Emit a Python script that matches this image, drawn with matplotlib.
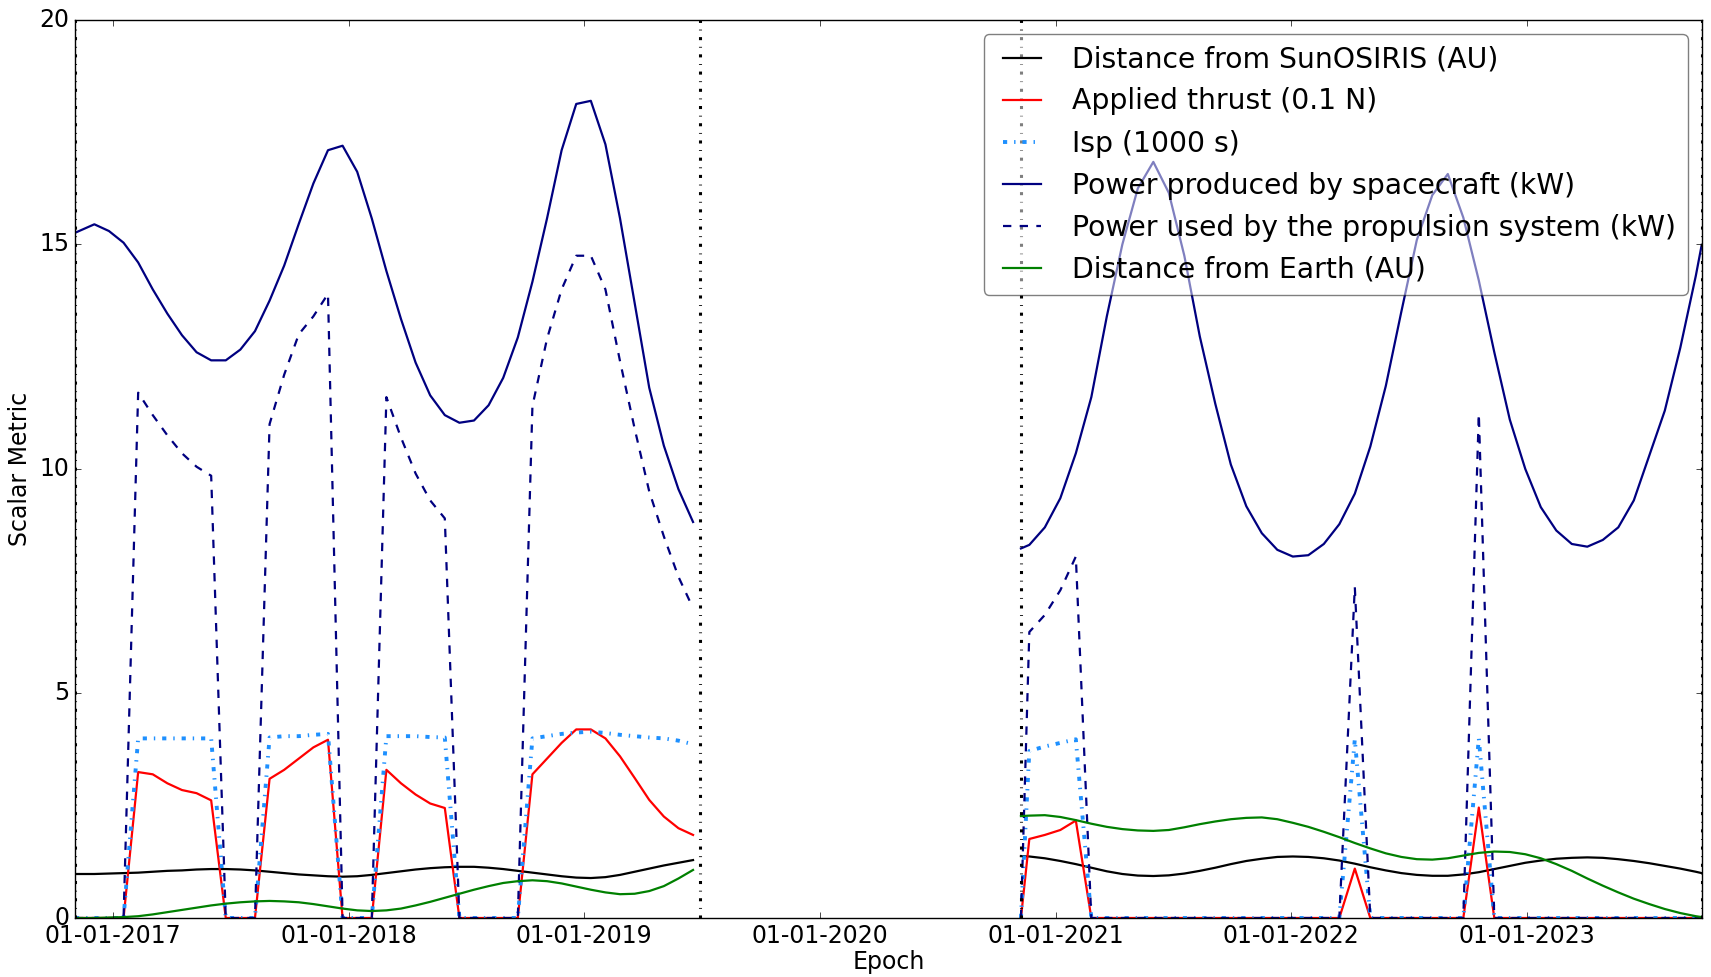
import matplotlib
matplotlib.use("Agg")
import matplotlib.pyplot as plt
import matplotlib.dates as mdates
import numpy as np
from datetime import datetime, timedelta

# ---------------- data ----------------
# Segment 1 sampling (first point at segment start, then regular samples)
seg1_start = datetime(2016, 11, 3)
seg1_first = datetime(2016, 12, 3)
seg1_step_days = 22.63
seg1_end = datetime(2019, 6, 30)

# Segment 2 sampling
seg2_start = datetime(2020, 11, 8)
seg2_first = datetime(2020, 11, 21)
seg2_step_days = 24.02
seg2_end = datetime(2023, 9, 29)

sun_dist_1 = [0.98, 0.98, 0.99, 1.0, 1.01, 1.03, 1.05, 1.06, 1.08, 1.09,
              1.09, 1.08, 1.06, 1.03, 1.0, 0.97, 0.95, 0.93, 0.92, 0.93,
              0.96, 1.0, 1.04, 1.08, 1.11, 1.13, 1.14, 1.14, 1.12, 1.09,
              1.05, 1.01, 0.97, 0.93, 0.9, 0.89, 0.91, 0.96, 1.03, 1.1,
              1.17, 1.23, 1.29]
thrust_1 = [0, 0, 0, 0, 3.25, 3.2, 3.0, 2.85, 2.78, 2.62,
            0, 0, 0, 3.1, 3.3, 3.55, 3.8, 3.97, 0, 0,
            0, 3.3, 3.0, 2.75, 2.55, 2.45, 0, 0, 0, 0,
            0, 3.2, 3.55, 3.9, 4.2, 4.2, 4.0, 3.6, 3.12, 2.63,
            2.26, 2.0, 1.85]
isp_1 = [0, 0, 0, 0, 4.0, 4.0, 4.0, 4.0, 4.0, 4.0,
         0, 0, 0, 4.02, 4.05, 4.05, 4.08, 4.1, 0, 0,
         0, 4.05, 4.05, 4.05, 4.03, 4.02, 0, 0, 0, 0,
         0, 4.0, 4.05, 4.1, 4.13, 4.15, 4.12, 4.08, 4.05, 4.02,
         4.0, 3.95, 3.87]
power_prod_1 = [15.26, 15.45, 15.3, 15.04, 14.6, 14.0, 13.46, 12.98, 12.6, 12.42,
                12.42, 12.66, 13.07, 13.75, 14.53, 15.46, 16.36, 17.1, 17.2, 16.62,
                15.58, 14.41, 13.34, 12.37, 11.64, 11.2, 11.03, 11.08, 11.42, 12.03,
                12.93, 14.17, 15.58, 17.1, 18.13, 18.2, 17.23, 15.58, 13.7, 11.81,
                10.52, 9.55, 8.82]
power_used_1 = [0, 0, 0, 0, 11.7, 11.2, 10.75, 10.35, 10.05, 9.85,
                0, 0, 0, 11.0, 12.1, 13.0, 13.4, 13.9, 0, 0,
                0, 11.6, 10.7, 9.9, 9.3, 8.9, 0, 0, 0, 0,
                0, 11.4, 12.9, 14.0, 14.75, 14.75, 14.0, 12.4, 10.9, 9.5,
                8.5, 7.6, 6.9]
earth_dist_1 = [0.0, 0.0, 0.01, 0.02, 0.04, 0.08, 0.13, 0.18, 0.23, 0.28,
                0.32, 0.35, 0.37, 0.38, 0.37, 0.35, 0.31, 0.26, 0.21, 0.17,
                0.155, 0.17, 0.21, 0.28, 0.36, 0.45, 0.54, 0.63, 0.71, 0.78,
                0.82, 0.84, 0.82, 0.77, 0.7, 0.63, 0.57, 0.53, 0.54, 0.6,
                0.71, 0.88, 1.07]

sun_dist_2 = [1.38, 1.37, 1.33, 1.27, 1.2, 1.12, 1.04, 0.98, 0.945, 0.935,
              0.95, 0.99, 1.05, 1.12, 1.2, 1.27, 1.32, 1.36, 1.37, 1.36,
              1.33, 1.28, 1.21, 1.13, 1.06, 1.0, 0.96, 0.94, 0.94, 0.97,
              1.02, 1.09, 1.16, 1.23, 1.28, 1.32, 1.34, 1.35, 1.34, 1.31,
              1.27, 1.22, 1.16, 1.1, 1.03, 1.0]
thrust_2 = [0, 1.76, 1.85, 1.96, 2.17, 0, 0, 0, 0, 0,
            0, 0, 0, 0, 0, 0, 0, 0, 0, 0,
            0, 0, 1.1, 0, 0, 0, 0, 0, 0, 0,
            2.46, 0, 0, 0, 0, 0, 0, 0, 0, 0,
            0, 0, 0, 0, 0, 0]
isp_2 = [0, 3.72, 3.82, 3.9, 3.98, 0, 0, 0, 0, 0,
         0, 0, 0, 0, 0, 0, 0, 0, 0, 0,
         0, 0, 3.98, 0, 0, 0, 0, 0, 0, 0,
         4.0, 0, 0, 0, 0, 0, 0, 0, 0, 0,
         0, 0, 0, 0, 0, 0]
power_prod_2 = [8.23, 8.31, 8.7, 9.35, 10.35, 11.6, 13.4, 15.0, 16.25, 16.84,
                16.15, 14.75, 12.95, 11.45, 10.1, 9.17, 8.57, 8.2, 8.05, 8.08,
                8.33, 8.77, 9.45, 10.5, 11.85, 13.5, 15.1, 16.1, 16.57, 15.6,
                14.2, 12.6, 11.1, 10.0, 9.15, 8.63, 8.33, 8.27, 8.42, 8.7,
                9.3, 10.3, 11.3, 12.7, 14.3, 14.99]
power_used_2 = [0, 6.37, 6.75, 7.3, 8.05, 0, 0, 0, 0, 0,
                0, 0, 0, 0, 0, 0, 0, 0, 0, 0,
                0, 0, 7.37, 0, 0, 0, 0, 0, 0, 0,
                11.23, 0, 0, 0, 0, 0, 0, 0, 0, 0,
                0, 0, 0, 0, 0, 0]
earth_dist_2 = [2.27, 2.28, 2.29, 2.25, 2.18, 2.1, 2.03, 1.98, 1.95, 1.94,
                1.96, 2.02, 2.09, 2.15, 2.2, 2.23, 2.24, 2.2, 2.12, 2.03,
                1.92, 1.8, 1.67, 1.55, 1.44, 1.36, 1.31, 1.3, 1.33, 1.39,
                1.45, 1.48, 1.47, 1.42, 1.33, 1.2, 1.05, 0.88, 0.72, 0.57,
                0.43, 0.31, 0.2, 0.11, 0.04, 0.02]

labels = ["Distance from SunOSIRIS (AU)", "Applied thrust (0.1 N)", "Isp (1000 s)",
          "Power produced by spacecraft (kW)", "Power used by the propulsion system (kW)",
          "Distance from Earth (AU)"]
y_ticks = [0, 5, 10, 15, 20]
phase_bounds = [seg1_start, seg1_end, seg2_start, seg2_end]

# ---------------- dates ----------------
def seg_dates(start, first, step, n, end=None):
    d = [start] + [first + timedelta(days=step * k) for k in range(n)]
    if end is not None:
        d.append(end)
    return mdates.date2num(d)

x1 = seg_dates(seg1_start, seg1_first, seg1_step_days, len(power_prod_1) - 1)
x2 = seg_dates(seg2_start, seg2_first, seg2_step_days, len(power_prod_2) - 2, seg2_end)
x_all = np.concatenate([x1, [np.nan], x2])

def join(a, b):
    return np.concatenate([np.asarray(a, float), [np.nan], np.asarray(b, float)])

# ---------------- plot ----------------
plt.style.use("classic")
plt.rcParams["font.family"] = ["DejaVu Sans"]
plt.rcParams["lines.scale_dashes"] = False
plt.rcParams["figure.facecolor"] = "white"
plt.rcParams["savefig.facecolor"] = "white"

fig = plt.figure(figsize=(17.11, 9.77), dpi=100)
ax = fig.add_axes([0.04383, 0.06039, 0.99456 - 0.04383, 0.97953 - 0.06039])

lw = 1.6
ax.plot(x_all, join(sun_dist_1, sun_dist_2), color="black", lw=lw, label=labels[0])
ax.plot(x_all, join(thrust_1, thrust_2), color="red", lw=lw, label=labels[1])
ax.plot(x_all, join(isp_1, isp_2), color="#1E90FF", lw=2.8, dashes=(3, 5, 1, 5), label=labels[2])
ax.plot(x_all, join(power_prod_1, power_prod_2), color="#000080", lw=lw, label=labels[3])
ax.plot(x_all, join(power_used_1, power_used_2), color="#000080", lw=lw, dashes=(6, 6), label=labels[4])
ax.plot(x_all, join(earth_dist_1, earth_dist_2), color="green", lw=lw, label=labels[5])

for d in phase_bounds:
    ax.axvline(mdates.date2num(d), color="black", lw=2.2, dashes=(2.2, 4.8, 0.6, 4.8))

ax.set_xlim(mdates.date2num(seg1_start), mdates.date2num(seg2_end))
ax.set_ylim(0, 20)
ax.set_yticks(y_ticks)
ax.xaxis.set_major_locator(mdates.YearLocator())
ax.xaxis.set_major_formatter(mdates.DateFormatter("%m-%d-%Y"))
ax.tick_params(labelsize=17)
ax.set_xlabel("Epoch", fontsize=17, labelpad=2)
ax.set_ylabel("Scalar Metric", fontsize=17)

leg = ax.legend(loc="upper right", fontsize=20.3, fancybox=True, framealpha=0.5,
                handlelength=1.95, labelspacing=0.5, borderaxespad=0.5, numpoints=2)

fig.savefig("out.png", dpi=100)
